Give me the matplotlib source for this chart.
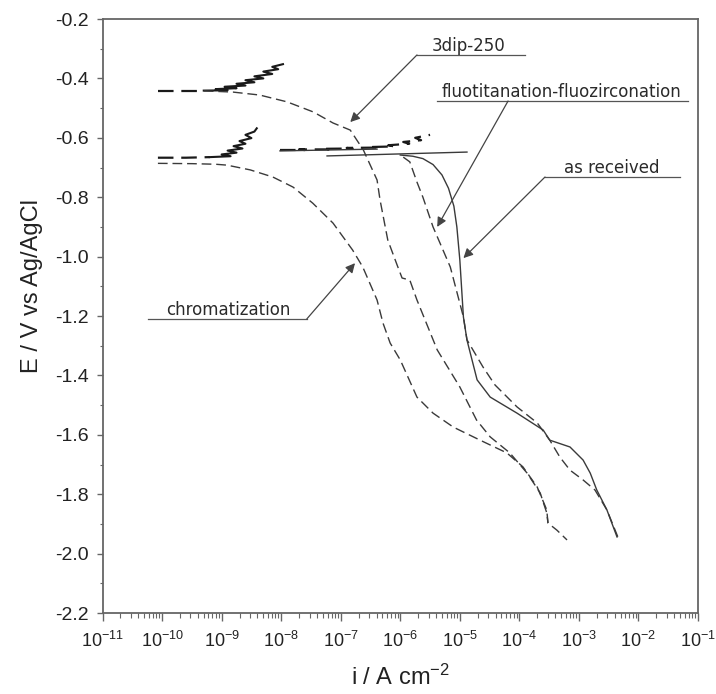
import numpy as np
import matplotlib
matplotlib.use("Agg")
import matplotlib.pyplot as plt
from matplotlib.ticker import LogLocator, MultipleLocator, FormatStrFormatter

plt.rcParams['font.family'] = ['Liberation Sans', 'DejaVu Sans']
plt.rcParams['mathtext.fontset'] = 'custom'
plt.rcParams['mathtext.rm'] = 'Liberation Sans'
plt.rcParams['mathtext.it'] = 'Liberation Sans:italic'
plt.rcParams['axes.unicode_minus'] = False

# current given as log10(i / A cm-2), potential in V vs Ag/AgCl
dip_an_logi = [-10.07, -9.6, -9.3, -8.9, -9.1, -8.75, -8.95, -8.6, -8.75, -8.45, -8.6,
               -8.3, -8.45, -8.15, -8.3, -8.05, -8.15, -7.97]
dip_an_E = [-0.441, -0.441, -0.441, -0.440, -0.436, -0.433, -0.428, -0.424, -0.418, -0.413, -0.406,
            -0.400, -0.393, -0.385, -0.377, -0.369, -0.361, -0.352]
dip_cat_logi = [-9.3, -8.81, -8.36, -7.90, -7.46, -7.13, -6.84, -6.62, -6.39, -6.34, -6.21, -6.05,
                -5.97, -5.84, -5.72, -5.38, -5.0, -4.72, -4.49, -4.16, -3.87, -3.65, -3.54, -3.52]
dip_cat_E = [-0.442, -0.446, -0.456, -0.479, -0.513, -0.550, -0.574, -0.641, -0.742, -0.809, -0.944, -1.03,
             -1.072, -1.079, -1.146, -1.314, -1.439, -1.55, -1.607, -1.661, -1.729, -1.796, -1.863, -1.897]

chrom_an_logi = [-10.07, -9.6, -9.2, -8.85, -9.0, -8.75, -8.9, -8.65, -8.8, -8.6, -8.7,
                 -8.5, -8.6, -8.45, -8.41]
chrom_an_E = [-0.667, -0.667, -0.665, -0.662, -0.656, -0.650, -0.643, -0.636, -0.628, -0.620, -0.611,
              -0.601, -0.590, -0.579, -0.568]
chrom_cat_logi = [-10.07, -9.5, -9.1, -8.91, -8.52, -8.14, -7.80, -7.47, -7.13, -6.80, -6.63,
                  -6.39, -6.29, -6.17, -6.0, -5.72, -5.45, -5.11, -4.66, -4.21, -3.94, -3.70,
                  -3.54, -3.52, -3.37, -3.20]
chrom_cat_E = [-0.686, -0.687, -0.689, -0.692, -0.708, -0.732, -0.766, -0.820, -0.887, -0.978, -1.035,
               -1.146, -1.224, -1.291, -1.348, -1.473, -1.527, -1.574, -1.618, -1.661, -1.708, -1.776,
               -1.853, -1.897, -1.921, -1.954]

fluo_an_logi = [-8.02, -7.6, -7.7, -7.2, -7.3, -6.8, -6.9, -6.4, -6.5, -6.1, -6.2,
                -5.85, -5.95, -5.65, -5.75, -5.5]
fluo_an_E = [-0.641, -0.641, -0.639, -0.639, -0.637, -0.636, -0.634, -0.633, -0.631, -0.629, -0.625,
             -0.620, -0.614, -0.608, -0.600, -0.590]
fluo_cat_logi = [-5.95, -5.84, -5.72, -5.62, -5.45, -5.16, -4.94, -4.88, -4.61, -4.41, -4.04,
                 -3.70, -3.49, -3.32, -3.15, -2.93, -2.73, -2.53, -2.34]
fluo_cat_E = [-0.665, -0.681, -0.749, -0.80, -0.90, -1.035, -1.203, -1.28, -1.372, -1.432, -1.506,
              -1.56, -1.618, -1.675, -1.719, -1.752, -1.786, -1.853, -1.947]

recv_flat_logi = [-8.02, -6.39, np.nan, -7.23, -4.88]
recv_flat_E = [-0.644, -0.638, np.nan, -0.661, -0.648]
recv_cat_logi = [-6.0, -5.79, -5.62, -5.45, -5.30, -5.19, -5.10, -5.05, -5.0, -4.94, -4.88, -4.71,
                 -4.49, -4.04, -3.60, -3.49, -3.15, -2.93, -2.81, -2.70, -2.53, -2.36]
recv_cat_E = [-0.658, -0.662, -0.670, -0.690, -0.725, -0.770, -0.830, -0.900, -1.011, -1.203, -1.281,
              -1.415, -1.473, -1.527, -1.584, -1.618, -1.641, -1.685, -1.729, -1.786, -1.853, -1.944]

x_ticks_exp = list(range(-11, 0))
y_ticks = [-0.2, -0.4, -0.6, -0.8, -1.0, -1.2, -1.4, -1.6, -1.8, -2.0, -2.2]


def cur(logi):
    return 10.0 ** np.asarray(logi, dtype=float)


fig = plt.figure(figsize=(7.16, 6.94), dpi=100)
ax = fig.add_axes([0.1432, 0.1167, 0.8317, 0.8559])

lc = '#3a3a3a'
noisy = '#1a1a1a'
dash = (0, (7, 3.5))
# flat starts dashed, noisy anodic parts drawn as heavy strokes
ax.plot(cur(dip_an_logi[:3]), dip_an_E[:3], color=noisy, lw=1.6, linestyle=dash)
ax.plot(cur(dip_an_logi[2:]), dip_an_E[2:], color=noisy, lw=1.5)
ax.plot(cur(dip_cat_logi), dip_cat_E, color=lc, lw=1.0, linestyle=dash)
ax.plot(cur(chrom_an_logi[:3]), chrom_an_E[:3], color=noisy, lw=1.6, linestyle=dash)
ax.plot(cur(chrom_an_logi[2:]), chrom_an_E[2:], color=noisy, lw=1.5)
ax.plot(cur(chrom_cat_logi), chrom_cat_E, color=lc, lw=1.0, linestyle=dash)
ax.plot(cur(fluo_an_logi), fluo_an_E, color=noisy, lw=1.6, linestyle=dash)
ax.plot(cur(fluo_cat_logi), fluo_cat_E, color=lc, lw=1.0, linestyle=dash)
ax.plot(cur(recv_flat_logi), recv_flat_E, color=lc, lw=1.0)
ax.plot(cur(recv_cat_logi), recv_cat_E, color=lc, lw=1.0)

# labels with underline and leader arrow
ann_color = '#555555'
def label(text, tx, base_E, u0, u1, start, tip):
    ax.text(10.0 ** tx, base_E + 0.014, text, ha='center', va='baseline',
            fontsize=12, family='DejaVu Sans', color='#2a2a2a')
    ax.plot([10.0 ** u0, 10.0 ** u1], [base_E, base_E], color=ann_color, lw=0.9)
    ax.annotate('', xy=(10.0 ** tip[0], tip[1]), xytext=(10.0 ** start, base_E),
                arrowprops=dict(arrowstyle='-|>', color='#444444', lw=0.9,
                                mutation_scale=14, shrinkA=0, shrinkB=0))

label('3dip-250', -4.85, -0.321, -5.72, -3.90, -5.72, (-6.84, -0.547))
label('fluotitanation-fluozirconation', -3.30, -0.476, -5.38, -1.17, -4.19, (-5.38, -0.90))
label('as received', -2.45, -0.732, -3.57, -1.30, -3.57, (-4.94, -1.005))
label('chromatization', -8.89, -1.21, -10.24, -7.57, -7.57, (-6.76, -1.022))

ax.set_xscale('log')
ax.set_xlim(1e-11, 1e-1)
ax.set_ylim(-2.2, -0.2)
ax.set_xticks([10.0 ** e for e in x_ticks_exp])
ax.set_xticklabels([r'$10^{%d}$' % e for e in x_ticks_exp])
ax.xaxis.set_minor_locator(LogLocator(base=10, subs=np.arange(2, 10), numticks=30))
ax.set_yticks(y_ticks)
ax.yaxis.set_major_formatter(FormatStrFormatter('%.1f'))
ax.yaxis.set_minor_locator(MultipleLocator(0.1))

for s in ax.spines.values():
    s.set_color('#666666')
    s.set_linewidth(1.3)
ax.tick_params(axis='x', which='major', direction='out', length=6, width=1,
               color='#666666', labelsize=13, pad=7, labelcolor='#222222')
ax.tick_params(axis='x', which='minor', direction='out', length=3.5, width=0.8, color='#666666')
ax.tick_params(axis='y', which='major', direction='out', length=4, width=1,
               color='#666666', labelsize=14, pad=6, labelcolor='#222222')
ax.tick_params(axis='y', which='minor', direction='out', length=2, width=0.8, color='#666666')

ax.set_xlabel(r'i / A cm$^{-2}$', fontsize=17, color='#222222', labelpad=10)
ax.set_ylabel('E / V vs Ag/AgCl', fontsize=17, color='#222222')
ax.yaxis.set_label_coords(-0.10, 0.55)

fig.savefig('out.png', dpi=100)
